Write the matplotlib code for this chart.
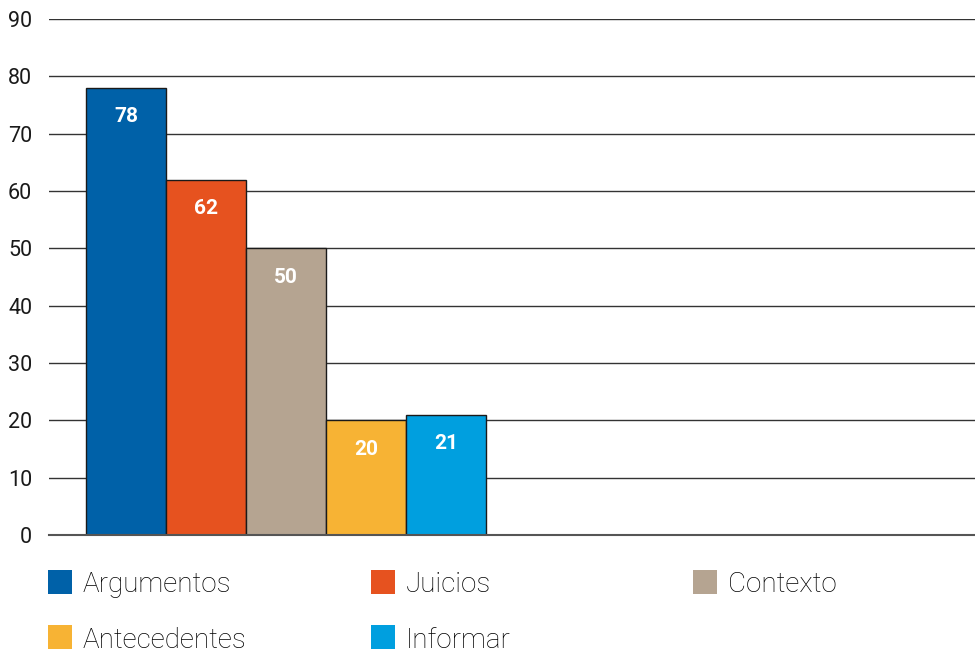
import matplotlib.pyplot as plt
from matplotlib.patches import Rectangle

categories = ["Argumentos", "Juicios", "Contexto", "Antecedentes", "Informar"]
values = [78, 62, 50, 20, 21]
colors = ["#0061A8", "#E6521F", "#B5A491", "#F7B334", "#009FDF"]
yticks = [0, 10, 20, 30, 40, 50, 60, 70, 80, 90]

plt.rcParams['font.family'] = ['Roboto', 'DejaVu Sans']

fig = plt.figure(figsize=(9.75, 6.53), dpi=100)
ax = fig.add_axes([49/975, 118/653, 926/975, 516/653])

x = list(range(len(categories)))
bars = ax.bar(x, values, width=1.0, color=colors, edgecolor="#1a1a1a", linewidth=1, zorder=3)

for b, v in zip(bars, values):
    ax.annotate(str(v), (b.get_x() + b.get_width()/2, v), xytext=(0, -21),
                textcoords="offset points", ha="center", va="center",
                color="white", fontsize=15, fontweight="bold", zorder=4)

ax.set_xlim(-0.9625, -0.9625 + 926/80)
ax.set_ylim(0, 90)
ax.set_yticks(yticks)
ax.set_yticklabels([str(t) for t in yticks], fontsize=15.5, color="#1a1a1a")
ax.set_xticks([])
ax.tick_params(axis="y", length=0, pad=12)
for t in yticks[1:]:
    ax.axhline(t, color="#333333", linewidth=1, zorder=1)
for s in ["top", "right", "left"]:
    ax.spines[s].set_visible(False)
ax.spines["bottom"].set_color("#555555")
ax.spines["bottom"].set_linewidth(1.5)
ax.spines["bottom"].set_zorder(5)

# legend laid out as a 3-column grid
col_x = [48, 371, 693]
row_y = [582, 637]
for i, (name, c) in enumerate(zip(categories, colors)):
    cx = col_x[i % 3]
    cy = row_y[i // 3]
    fig.patches.append(Rectangle(((cx)/975, (653 - cy - 12)/653), 24/975, 24/653,
                                 transform=fig.transFigure, facecolor=c, edgecolor="none"))
    fig.text((cx + 35)/975, (653 - cy - 3)/653, name, fontsize=20, fontweight="light",
             va="center", ha="left", color="#000")

fig.savefig("out.png", dpi=100)
